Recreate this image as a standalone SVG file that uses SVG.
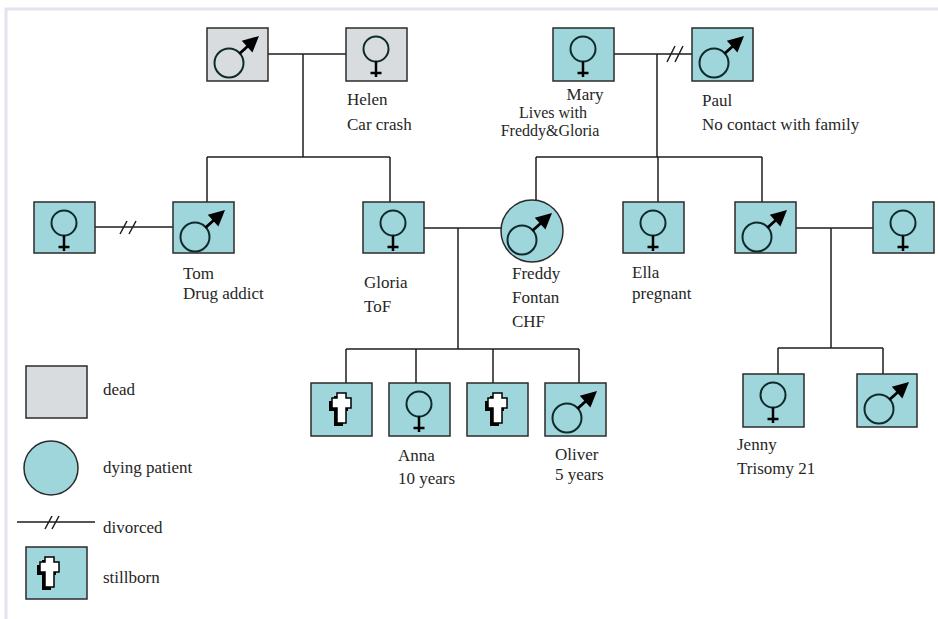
<svg xmlns="http://www.w3.org/2000/svg" xmlns:xlink="http://www.w3.org/1999/xlink" width="938" height="619" viewBox="0 0 938 619">
<style>
.box{fill:#9fd6dc;stroke:#2b2b2b;stroke-width:1.5}
.dead{fill:#d9dcde;stroke:#2b2b2b;stroke-width:1.5}
.ln{fill:none;stroke:#1e1e1e;stroke-width:1.5}
.sym{fill:none;stroke:#0f2a2a;stroke-width:2}
.t{font-family:"Liberation Serif","Times New Roman",serif;font-size:17px;fill:#262626}
.ts{font-size:16px}
</style>
<defs>
<g id="male">
<circle class="sym" cx="22" cy="35" r="14.5"/>
<line x1="32.4" y1="25.7" x2="41" y2="18" stroke="#000" stroke-width="2.8"/>
<polygon points="52,8 45.4,24.6 34.8,12.8" fill="#000"/>
</g>
<g id="female">
<circle class="sym" cx="30" cy="21" r="12.5"/>
<line x1="30" y1="33.5" x2="30" y2="49" stroke="#000" stroke-width="2.5"/>
<line x1="24.5" y1="45" x2="35.5" y2="45" stroke="#000" stroke-width="2.5"/>
</g>
<path id="crossShape" d="M26,10 h9 v5 h5 v10 h-5 v15 h-9 v-15 h-5 v-10 h5 z"/>
<g id="cross">
<use xlink:href="#crossShape" href="#crossShape" transform="translate(-3,3)" fill="#000"/>
<use xlink:href="#crossShape" href="#crossShape" fill="#fff" stroke="#000" stroke-width="1.5"/>
</g>
</defs>
<rect width="938" height="619" fill="#fff"/>
<path d="M6,619 V9 H938" fill="none" stroke="#e2e3f0" stroke-width="3"/>

<g id="connectors">
<path class="ln" d="M268,54 H346 M303,54 V157 M207,157 H390 M207,157 V202 M390,157 V202"/>
<path class="ln" d="M95,227 H173 M120,234 L127,221 M129,234 L136,221"/>
<path class="ln" d="M614,54 H692 M667,62 L675,46 M675,62 L683,46 M657,54 V157 M536,157 H762 M536,157 V200 M658,157 V202 M762,157 V202"/>
<path class="ln" d="M424,228 H501 M458,228 V349 M346,349 H579 M346,349 V383 M416,349 V383 M493,349 V383 M579,349 V383"/>
<path class="ln" d="M796,228 H873 M831,228 V348 M778,348 H883 M778,348 V374 M883,348 V374"/>
</g>

<g id="grandfather"><rect class="dead" x="207" y="28" width="61" height="53"/><use href="#male" xlink:href="#male" x="207" y="28"/></g>
<g id="helen"><rect class="dead" x="346" y="28" width="61" height="53"/><use href="#female" xlink:href="#female" x="346" y="28"/>
<text class="t" x="347" y="105">Helen</text><text class="t" x="347" y="130">Car crash</text></g>
<g id="mary"><rect class="box" x="553" y="28" width="61" height="53"/><use href="#female" xlink:href="#female" x="553" y="28"/>
<text class="t" x="585" y="100" text-anchor="middle">Mary</text><text class="t ts" x="553" y="118" text-anchor="middle">Lives with</text><text class="t ts" x="550" y="136" text-anchor="middle">Freddy&amp;Gloria</text></g>
<g id="paul"><rect class="box" x="692" y="28" width="61" height="53"/><use href="#male" xlink:href="#male" x="692" y="28"/>
<text class="t" x="702" y="106">Paul</text><text class="t" x="702" y="130">No contact with family</text></g>

<g id="tomwife"><rect class="box" x="34" y="202" width="61" height="51"/><use href="#female" xlink:href="#female" x="34" y="202"/></g>
<g id="tom"><rect class="box" x="173" y="202" width="61" height="51"/><use href="#male" xlink:href="#male" x="173" y="202"/>
<text class="t" x="183" y="279">Tom</text><text class="t" x="183" y="299">Drug addict</text></g>
<g id="gloria"><rect class="box" x="363" y="202" width="61" height="51"/><use href="#female" xlink:href="#female" x="363" y="202"/>
<text class="t" x="364" y="288">Gloria</text><text class="t" x="364" y="312">ToF</text></g>
<g id="freddy"><circle class="box" cx="532" cy="231" r="31"/><use href="#male" xlink:href="#male" x="500" y="205"/>
<text class="t" x="512" y="279">Freddy</text><text class="t" x="512" y="303">Fontan</text><text class="t" x="512" y="327">CHF</text></g>
<g id="ella"><rect class="box" x="623" y="202" width="61" height="51"/><use href="#female" xlink:href="#female" x="623" y="202"/>
<text class="t" x="632" y="278">Ella</text><text class="t" x="632" y="299">pregnant</text></g>
<g id="uncle"><rect class="box" x="735" y="202" width="61" height="51"/><use href="#male" xlink:href="#male" x="735" y="202"/></g>
<g id="aunt"><rect class="box" x="873" y="202" width="61" height="51"/><use href="#female" xlink:href="#female" x="873" y="202"/></g>

<g id="stillborn1"><rect class="box" x="311" y="383" width="61" height="53"/><use href="#cross" xlink:href="#cross" x="311" y="383"/></g>
<g id="anna"><rect class="box" x="389" y="383" width="61" height="53"/><use href="#female" xlink:href="#female" x="389" y="383"/>
<text class="t" x="398" y="461">Anna</text><text class="t" x="398" y="484">10 years</text></g>
<g id="stillborn2"><rect class="box" x="467" y="383" width="61" height="53"/><use href="#cross" xlink:href="#cross" x="467" y="383"/></g>
<g id="oliver"><rect class="box" x="545" y="383" width="61" height="53"/><use href="#male" xlink:href="#male" x="545" y="383"/>
<text class="t" x="555" y="460">Oliver</text><text class="t" x="555" y="480">5 years</text></g>
<g id="jenny"><rect class="box" x="743" y="374" width="61" height="53"/><use href="#female" xlink:href="#female" x="743" y="374"/>
<text class="t" x="737" y="450">Jenny</text><text class="t" x="737" y="474">Trisomy 21</text></g>
<g id="cousin"><rect class="box" x="857" y="374" width="60" height="53"/><use href="#male" xlink:href="#male" x="857" y="374"/></g>

<g id="legend">
<rect class="dead" x="26" y="366" width="61" height="52"/><text class="t" x="103" y="395">dead</text>
<circle class="box" cx="51" cy="468" r="27"/><text class="t" x="103" y="473">dying patient</text>
<path class="ln" d="M17,522 H95 M45,529 L52,516 M52,529 L59,516"/><text class="t" x="103" y="533">divorced</text>
<rect class="box" x="26" y="547" width="61" height="52"/><use href="#cross" xlink:href="#cross" x="19" y="547"/><text class="t" x="103" y="583">stillborn</text>
</g>
</svg>
